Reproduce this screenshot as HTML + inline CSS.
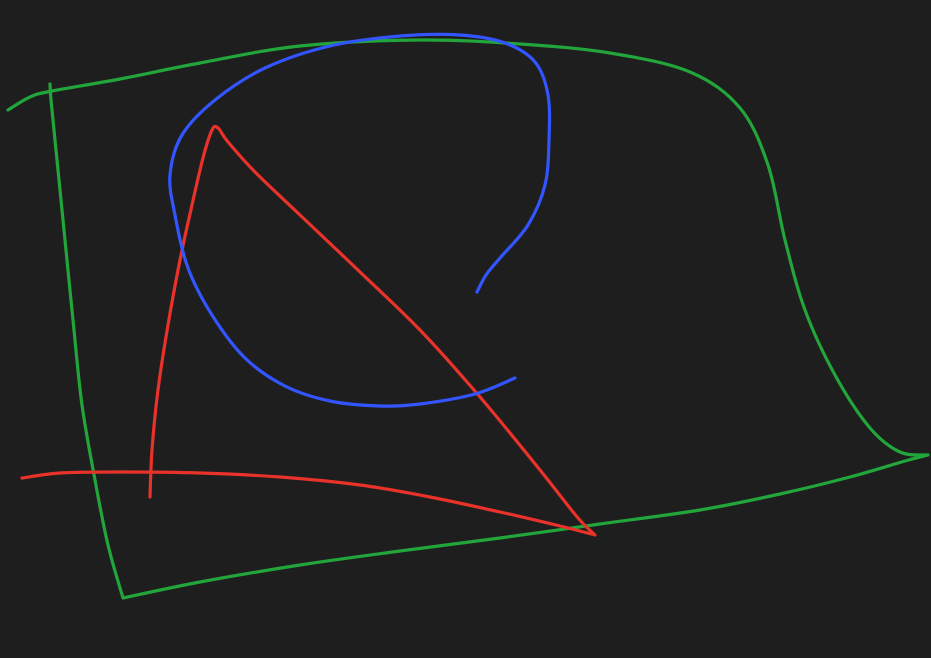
<!DOCTYPE html>
<html>
<head>
<meta charset="utf-8">
<style>
  html, body { margin: 0; padding: 0; background: #1e1e1e; }
  svg { display: block; }
</style>
</head>
<body>
<svg id="canvas" width="931" height="658" viewBox="0 0 931 658">
  <rect x="0" y="0" width="931" height="658" fill="#1e1e1e"/>
</svg>
<script>
const greenStroke = [[8,110],[30,97],[52,91],[120,79],[200,63],[300,46],[420,40],[520,44],[610,53],[690,72],[740,108],[768,165],[785,240],[805,310],[835,375],[870,428],[900,452],[928,455],[905,461],[850,477],[780,494],[700,510],[600,524],[500,538],[400,551],[300,565],[200,582],[123,598],[108,545],[95,480],[82,405],[73,320],[64,230],[56,150],[51,100],[50,84]];
const greenCorners = [17,27];
const blueStroke = [[515,378],[475,394],[420,404],[380,406],[330,401],[285,386],[245,358],[212,315],[188,268],[175,215],[170,175],[182,135],[215,100],[265,68],[330,46],[400,36],[460,35],[505,43],[535,62],[548,95],[549,140],[545,185],[528,225],[500,258],[486,275],[477,292]];
const blueCorners = [];
const redStroke = [[22,478],[60,473],[120,472],[200,473],[280,477],[360,485],[430,497],[500,512],[560,526],[595,535],[578,518],[540,470],[480,397],[420,330],[360,272],[300,215],[255,172],[228,142],[218,128],[212,130],[203,158],[192,205],[180,260],[168,325],[158,390],[152,450],[150,497]];
const redCorners = [9];

function smoothPath(pts, corners) {
  let d = 'M' + pts[0][0] + ',' + pts[0][1];
  for (let i = 0; i < pts.length - 1; i++) {
    let p0 = pts[i - 1] || pts[i], p1 = pts[i], p2 = pts[i + 1], p3 = pts[i + 2] || p2;
    if (corners.includes(i)) p0 = p1;
    if (corners.includes(i + 1)) p3 = p2;
    const c1x = p1[0] + (p2[0] - p0[0]) / 6, c1y = p1[1] + (p2[1] - p0[1]) / 6;
    const c2x = p2[0] - (p3[0] - p1[0]) / 6, c2y = p2[1] - (p3[1] - p1[1]) / 6;
    d += ' C' + c1x.toFixed(1) + ',' + c1y.toFixed(1) + ' ' + c2x.toFixed(1) + ',' + c2y.toFixed(1) + ' ' + p2[0] + ',' + p2[1];
  }
  return d;
}

const svg = document.getElementById('canvas');
function addStroke(pts, corners, color, name) {
  const p = document.createElementNS('http://www.w3.org/2000/svg', 'path');
  p.setAttribute('d', smoothPath(pts, corners));
  p.setAttribute('fill', 'none');
  p.setAttribute('stroke', color);
  p.setAttribute('stroke-width', '3.2');
  p.setAttribute('stroke-linecap', 'round');
  p.setAttribute('stroke-linejoin', 'round');
  
  
  svg.appendChild(p);
}
addStroke(greenStroke, greenCorners, '#22a53a', 'green-stroke');
addStroke(redStroke, redCorners, '#e8322a', 'red-stroke');
addStroke(blueStroke, blueCorners, '#3355ff', 'blue-stroke');
</script>
</body>
</html>
